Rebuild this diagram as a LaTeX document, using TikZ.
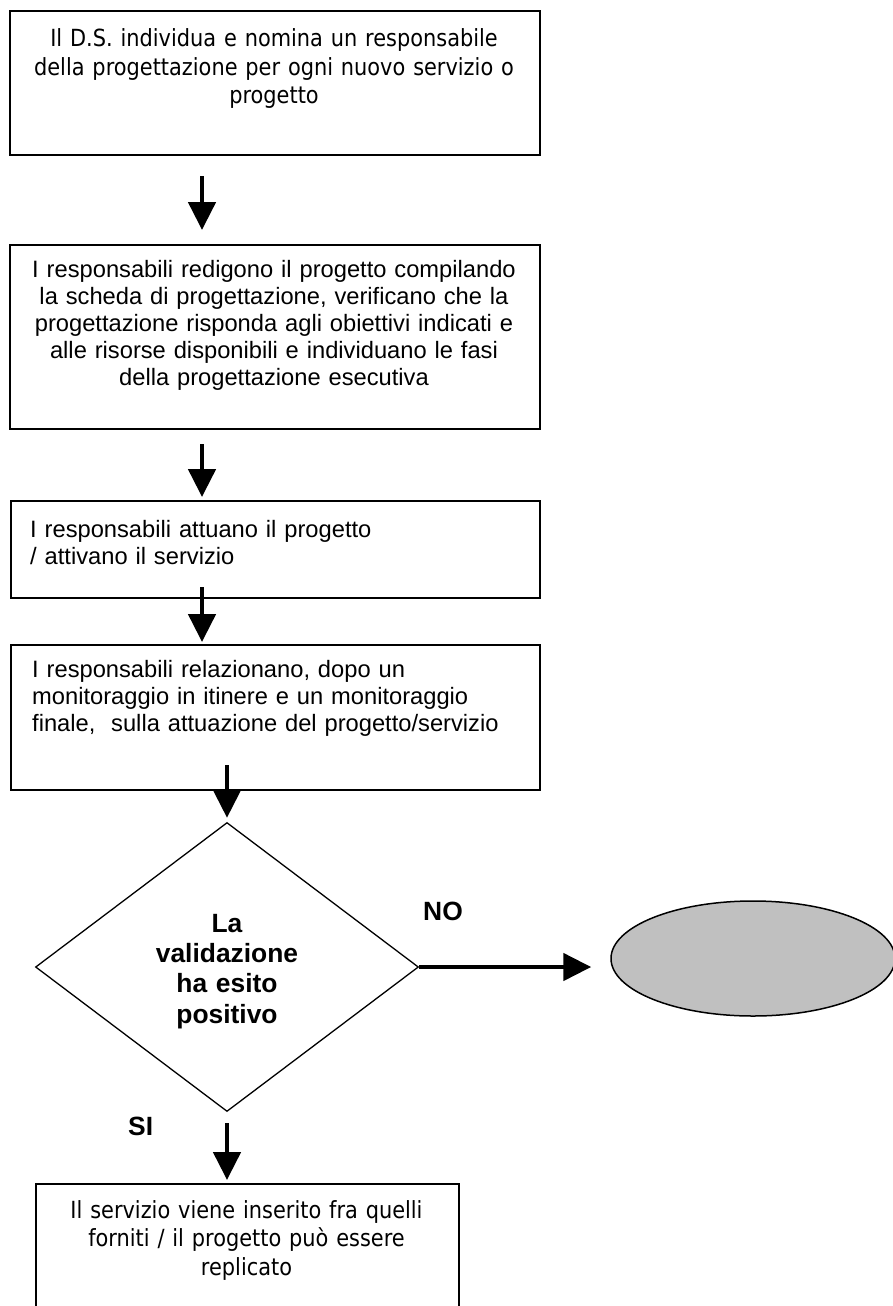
\documentclass[tikz,border=0pt]{standalone}
\usepackage{fontspec}
\setmainfont{Liberation Sans}
\newfontfamily\tahomafont[FakeStretch=0.885]{DejaVu Sans}
\usetikzlibrary{arrows.meta,shapes.geometric}
\definecolor{ellgray}{HTML}{C0C0C0}

\tikzset{
	box/.style={draw,line width=2.3pt,inner sep=0pt},
	flow/.style={line width=4.8pt,-{Triangle[length=28pt,width=27pt]}},
	arialtext/.style={font=\fontsize{23.7}{27.2}\selectfont,inner sep=0pt},
	tahomatext/.style={font=\fontsize{23.6}{28.5}\tahomafont,inner sep=0pt},
	boldtext/.style={font=\fontsize{26.4}{30.4}\selectfont\bfseries,inner sep=0pt}
}

\begin{document}
\begin{tikzpicture}[x=1pt,y=-1pt]

			\useasboundingbox (0,0) rectangle (893,1306);
			\clip (0,0) rectangle (893,1306);
			\coordinate (lx) at (202,0);
			\coordinate (rx) at (227,0);
			%boxes
			\node[box,minimum width=530pt,minimum height=144pt,anchor=north west] (b1) at (9,10) {};
			\node[box,minimum width=530pt,minimum height=184pt,anchor=north west] (b2) at (9,244) {};
			\node[box,minimum width=529pt,minimum height=97pt,anchor=north west] (b3) at (10,500) {};
			\node[box,minimum width=529pt,minimum height=145pt,anchor=north west] (b4) at (10,644) {};
			\node[draw,diamond,line width=1.3pt,minimum width=383pt,minimum height=289pt,inner sep=0pt] (val) at (227,967) {};
			\node[draw,ellipse,fill=ellgray,line width=1.5pt,minimum width=284pt,minimum height=115pt,inner sep=0pt] (stop) at (753,958.5) {};
			\node[box,minimum width=423pt,minimum height=127pt,anchor=north west] (b5) at (35,1183) {};
			%texts
			\node[tahomatext,text width=530pt,align=center,anchor=base] (t1) at (274,47) {Il D.S. individua e nomina un responsabile\\della progettazione per ogni nuovo servizio o\\progetto};
			\node[arialtext,text width=530pt,align=center,anchor=base] (t2) at (274,277) {I responsabili redigono il progetto compilando\\la scheda di progettazione, verificano che la\\progettazione risponda agli obiettivi indicati e\\alle risorse disponibili e individuano le fasi\\della progettazione esecutiva};
			\node[arialtext,text width=500pt,align=left,anchor=base west] (t3) at (30,537) {I responsabili attuano il progetto\\/ attivano il servizio};
			\node[arialtext,text width=500pt,align=left,anchor=base west] (t4) at (32,677) {I responsabili relazionano, dopo un\\monitoraggio in itinere e un monitoraggio\\finale,\ \ sulla attuazione del progetto/servizio};
			\node[boldtext,text width=200pt,align=center,anchor=base] (tval) at (227,932) {La\\validazione\\ha esito\\positivo};
			\node[tahomatext,text width=423pt,align=center,anchor=base] (t5) at (246.5,1218) {Il servizio viene inserito fra quelli\\forniti / il progetto può essere\\replicato};
			\node[boldtext,anchor=base west] (no) at (423,920) {NO};
			\node[boldtext,anchor=base west] (si) at (128,1135) {SI};
			%arrows
			\coordinate (s3) at ([yshift=12pt]b3.south);
			\coordinate (s4) at ([yshift=26pt]b4.south);
			\draw[flow,shorten <=20pt,shorten >=14pt] (b1.south -| lx) -- (b2.north -| lx);
			\draw[flow,shorten <=14pt,shorten >=3pt] (b2.south -| lx) -- (b3.north -| lx);
			\draw[flow,shorten >=2pt] (s3 -| lx) -- (b4.north -| lx);
			\draw[flow,shorten >=4pt] (s4 -| rx) -- (val.north);
			\draw[flow,shorten >=19pt] (val.east) -- (val.east -| stop.west);
			\draw[flow,shorten <=11pt,shorten >=3pt] (val.south) -- (b5.north -| rx);

\end{tikzpicture}
\end{document}
